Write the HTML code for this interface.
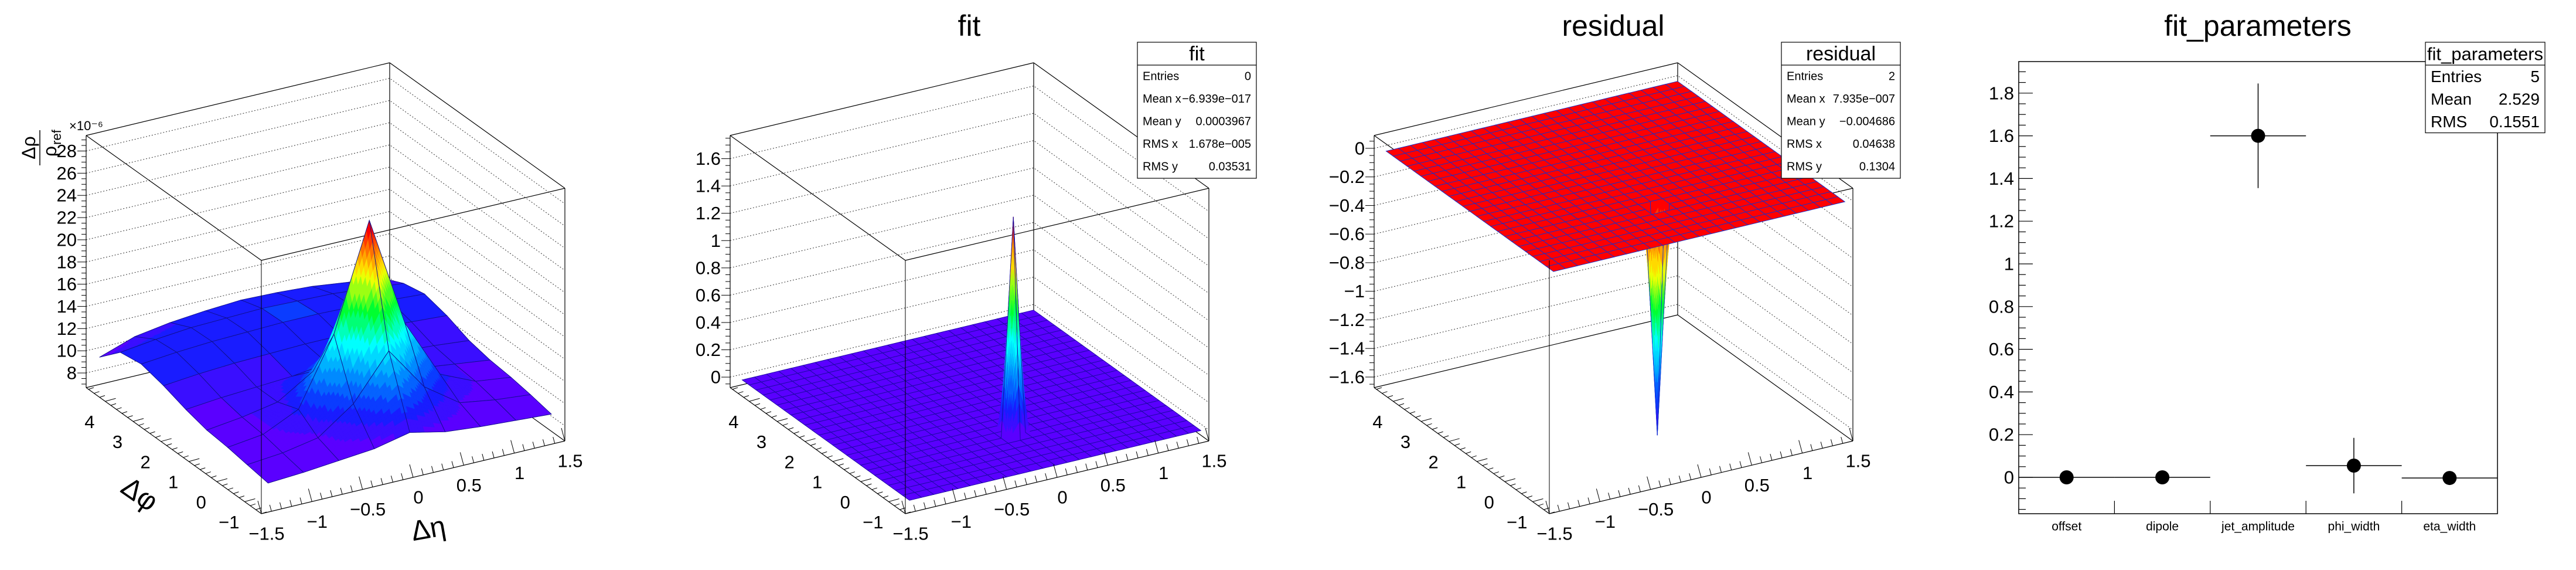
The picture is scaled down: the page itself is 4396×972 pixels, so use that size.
<!DOCTYPE html>
<html><head><meta charset="utf-8"><style>
html,body{margin:0;padding:0;background:#fff;}
svg{display:block;font-family:"Liberation Sans",sans-serif;}
</style></head><body>
<svg id="root" width="4396" height="972" viewBox="0 0 4396 972" xmlns="http://www.w3.org/2000/svg">
<rect x="0" y="0" width="4396" height="972" fill="#fff"/>
</svg>
<script>
// ---------- Panel 1 data: Δρ/ρref (×1e-6) ----------
const p1Eta = [-1.4,-1.05,-0.7,-0.35,0,0.35,0.7,1.05,1.4];
const p1Phi = [-1.45,-0.7,0,0.75,1.5,2.3,3.1,3.85,4.6];
const p1Z = [
 [9.0,9.2,9.5,9.8,10.5,9.8,9.5,9.3,9.1],
 [9.3,9.6,10.2,12.5,16.5,12.5,10.3,9.8,9.5],
 [9.6,10.0,11.5,17.5,27.0,17.0,11.6,10.2,9.8],
 [9.8,10.2,10.8,12.8,16.5,12.8,10.8,10.4,10.0],
 [10.3,10.6,10.8,11.0,11.4,11.0,10.9,10.7,10.4],
 [11.0,11.3,11.5,11.6,11.7,11.7,11.6,11.4,11.2],
 [11.5,11.8,12.0,12.1,12.2,12.2,12.1,11.9,11.7],
 [11.2,11.6,11.9,12.0,12.1,12.0,11.9,11.6,11.3],
 [9.4,10.5,11.0,11.3,11.5,11.4,11.2,10.8,10.4]
];
const p1ZTicks = [8,10,12,14,16,18,20,22,24,26,28];
// ---------- Panel 2 (fit) ----------
const fitBase = 0;
const fitPeakValues = [1.6];
const fitPeakEtaIdx = [12];
const fitPeakPhiIdx = [6];
const fitZTicks = [0,0.2,0.4,0.6,0.8,1,1.2,1.4,1.6];
const fitStats = [["Entries","0"],["Mean x","\u22126.939e\u2212017"],["Mean y","0.0003967"],["RMS x","1.678e\u2212005"],["RMS y","0.03531"]];
// ---------- Panel 3 (residual) ----------
const resBase = 0;
const resPeakValues = [-1.6];
const resPeakEtaIdx = [12];
const resPeakPhiIdx = [6];
const resZTicks = [0,-0.2,-0.4,-0.6,-0.8,-1,-1.2,-1.4,-1.6];
const resStats = [["Entries","2"],["Mean x","7.935e\u2212007"],["Mean y","\u22120.004686"],["RMS x","0.04638"],["RMS y","0.1304"]];
// ---------- Panel 4 (fit_parameters) ----------
const parCategories = ["offset","dipole","jet_amplitude","phi_width","eta_width"];
const parValues = [0.0,0.0,1.6,0.055,-0.003];
const parErrors = [0.002,0.002,0.245,0.13,0.002];
const parYTicks = [0,0.2,0.4,0.6,0.8,1,1.2,1.4,1.6,1.8];
const parStats = [["Entries","5"],["Mean","2.529"],["RMS","0.1551"]];
const etaTicks = [-1.5,-1,-0.5,0,0.5,1,1.5];
const phiTicks = [-1,0,1,2,3,4];

const NS="http://www.w3.org/2000/svg";
const root=document.getElementById('root');
function mk(tag,attrs,parent){const e=document.createElementNS(NS,tag);for(const k in attrs)e.setAttribute(k,attrs[k]);(parent||root).appendChild(e);return e;}
function fmt(v){let s=(Math.round(v*100)/100).toString();return s.replace('-','\u2212');}
const stops=[[0,[90,0,255]],[0.12,[16,32,255]],[0.25,[0,128,255]],[0.42,[0,255,255]],[0.58,[0,255,48]],[0.75,[255,255,0]],[0.87,[255,140,0]],[1,[255,0,0]]];
function col(t){t=Math.max(0,Math.min(1,t));t=Math.min(1,Math.floor(t*20)/19);
 for(let i=1;i<stops.length;i++){if(t<=stops[i][0]){const a=stops[i-1],b=stops[i];const f=(t-a[0])/(b[0]-a[0]);
  return 'rgb('+a[1].map((c,k)=>Math.round(c+(b[1][k]-c)*f)).join(',')+')';}}return 'rgb(255,0,0)';}

function panel3d(ox,name,zmin,zmax,etaN,phiN,Z,zTicks,minorStep,cmin,cmax,meshColor){
 const g=mk('g',{transform:'translate('+ox+',0)'});
 
 
 const H=430;
 const zy=z=>(z-zmin)/(zmax-zmin)*H;
 function P(eta,phi,z){const u=(eta+1.5)/3,v=(phi+1.5708)/6.2832;return [446+u*518-v*299,876-u*124-v*215-zy(z)];}
 zTicks.forEach(t=>{const y=661-zy(t);
  const gl=mk('polyline',{points:`147,${y} 665,${y-124} 964,${y+90}`,fill:'none',stroke:'#333','stroke-width':1,'stroke-dasharray':'2,3'},g);
  
  
 });
 const edges=[[147,231,665,107],[665,107,964,321],[147,231,446,444],[446,444,964,321],[147,231,147,661],[964,321,964,752],[665,107,665,537],[147,661,665,537],[665,537,964,752],[147,661,446,876],[446,876,964,752]];
 edges.forEach(e=>{const l=mk('line',{x1:e[0],y1:e[1],x2:e[2],y2:e[3],stroke:'#000','stroke-width':1.2},g);
  
  });
 const quads=[];
 for(let j=0;j<phiN.length-1;j++)for(let i=0;i<etaN.length-1;i++){
  const u=(etaN[i]+etaN[i+1])/2,v=(phiN[j]+phiN[j+1])/2;
  quads.push({i,j,d:124*(u+1.5)/3+215*(v+1.57)/6.28});}
 quads.sort((a,b)=>b.d-a.d);
 const sg=mk('g',{},g);
 
 
 quads.forEach(q=>{const i=q.i,j=q.j;
  const z00=Z[j][i],z10=Z[j][i+1],z01=Z[j+1][i],z11=Z[j+1][i+1];
  const zr=Math.max(z00,z10,z01,z11)-Math.min(z00,z10,z01,z11);
  const n=zr>(cmax-cmin)*0.08?12:1;
  const bil=(a,b)=>z00*(1-a)*(1-b)+z10*a*(1-b)+z01*(1-a)*b+z11*a*b;
  const pt=(a,b)=>P(etaN[i]+(etaN[i+1]-etaN[i])*a,phiN[j]+(phiN[j+1]-phiN[j])*b,bil(a,b));
  const subs=[];
  for(let b=0;b<n;b++)for(let a=0;a<n;a++)subs.push([a,b]);
  subs.sort((s,t)=>(t[0]*124+t[1]*215)-(s[0]*124+s[1]*215));
  subs.forEach(([a,b])=>{const a0=a/n,a1=(a+1)/n,b0=b/n,b1=(b+1)/n;
   const zm=(bil(a0,b0)+bil(a1,b0)+bil(a0,b1)+bil(a1,b1))/4;
   const pts=[pt(a0,b0),pt(a1,b0),pt(a1,b1),pt(a0,b1)];
   const c=col((zm-cmin)/(cmax-cmin));
   const p=mk('polygon',{points:pts.map(p=>p.join(',')).join(' '),fill:c,stroke:c,'stroke-width':0.6},sg);
   
   });
  const o=[pt(0,0),pt(1,0),pt(1,1),pt(0,1)];
  const ol=mk('polygon',{points:o.map(p=>p.join(',')).join(' '),fill:'none',stroke:meshColor,'stroke-width':0.9},sg);
  
  
 });
 const fe=mk('line',{x1:446,y1:444,x2:446,y2:876,stroke:'#000','stroke-width':1},g);
 
 
 for(let v=Math.ceil(zmin/minorStep)*minorStep;v<=zmax;v+=minorStep){const y=661-zy(v);
  const isMaj=zTicks.some(t=>Math.abs(t-v)<1e-6);
  const tk=mk('line',{x1:147-(isMaj?15:8),y1:y,x2:147,y2:y,stroke:'#000','stroke-width':1},g);
  
  }
 zTicks.forEach(t=>{const y=661-zy(t);
  const tx=mk('text',{x:131,y:y,'text-anchor':'end','dominant-baseline':'central','font-size':31},g);
  tx.textContent=fmt(t);
  
  });
 for(let k=0;k<=30;k++){const e=-1.5+k*0.1;const p=P(e,-1.5708,zmin);const maj=k%5==0;
  const tk=mk('line',{x1:p[0],y1:p[1],x2:p[0]-(maj?6:3),y2:p[1]-(maj?22:11),stroke:'#000','stroke-width':1},g);
  
  }
 etaTicks.forEach(e=>{const p=P(e,-1.5708,zmin);
  const tx=mk('text',{x:p[0]+9,y:p[1]+34,'text-anchor':'middle','dominant-baseline':'central','font-size':31},g);
  tx.textContent=fmt(e);
  
  });
 for(let k=0;k<=31;k++){const ph=-1.5708+k*0.2;if(ph>4.72)break;const pb=P(-1.5,ph,zmin);
  const maj=Math.abs(ph-Math.round(ph))<0.11;
  const tk=mk('line',{x1:pb[0],y1:pb[1],x2:pb[0]+(maj?18:9),y2:pb[1]-(maj?5:3),stroke:'#000','stroke-width':1},g);
  
  }
 phiTicks.forEach(ph=>{const p=P(-1.5,ph,zmin);
  const tx=mk('text',{x:p[0]-28,y:p[1]+34,'text-anchor':'middle','dominant-baseline':'central','font-size':31},g);
  tx.textContent=fmt(ph);
  
  });
 return g;
}
function statsBox(g,x,y,w,title,rows,titleSize,rowSize,rowH){
 const b=mk('g',{},g);
 
 
 mk('rect',{x:x,y:y,width:w,height:39+rows.length*rowH,fill:'#fff',stroke:'#000','stroke-width':1.2},b);
 mk('line',{x1:x,y1:y+39,x2:x+w,y2:y+39,stroke:'#000','stroke-width':1.2},b);
 const t=mk('text',{x:x+w/2,y:y+20,'text-anchor':'middle','dominant-baseline':'central','font-size':titleSize},b);
 t.textContent=title;
 rows.forEach((r,k)=>{const yy=y+39+rowH*(k+0.5);
  const a=mk('text',{x:x+9,y:yy,'dominant-baseline':'central','font-size':rowSize},b);a.textContent=r[0];
  const c=mk('text',{x:x+w-9,y:yy,'text-anchor':'end','dominant-baseline':'central','font-size':rowSize},b);c.textContent=r[1];});
}
function title(g,x,text,size){const t=mk('text',{x:x,y:44,'text-anchor':'middle','dominant-baseline':'central','font-size':size},g);
 t.textContent=text;
 
 }

const g1=panel3d(0,'correlation',6.68,29.4,p1Eta,p1Phi,p1Z,p1ZTicks,0.5,9.5,27,'#10108a');
const e6=mk('text',{x:147,y:222,'font-size':22,'text-anchor':'middle'},g1);
e6.textContent='\u00d710\u207b\u2076';


const zt=mk('g',{transform:'translate(70,252) rotate(-90)'},g1);


mk('text',{x:0,y:-10,'text-anchor':'middle','font-size':32},zt).textContent='\u0394\u03c1';
mk('line',{x1:-30,y1:-2,x2:30,y2:-2,stroke:'#000','stroke-width':1.5},zt);
const rr=mk('text',{x:-6,y:26,'text-anchor':'middle','font-size':32},zt);rr.textContent='\u03c1';
mk('text',{x:18,y:34,'text-anchor':'middle','font-size':22},zt).textContent='ref';
const xt=mk('text',{x:731,y:902,'text-anchor':'middle','dominant-baseline':'central','font-size':48,transform:'rotate(-10 731 902)'},g1);
xt.textContent='\u0394\u03b7';


const yt=mk('text',{x:238,y:843,'text-anchor':'middle','dominant-baseline':'central','font-size':48,transform:'rotate(35 238 843)'},g1);
yt.textContent='\u0394\u03c6';



const gEta=[],gPhi=[];for(let k=0;k<25;k++){gEta.push(-1.44+k*0.12);gPhi.push(-1.5+k*0.25);}
function spikeGrid(base,vals,ei,pi){const Z=[];for(let j=0;j<25;j++){Z.push(new Array(25).fill(base));}
 vals.forEach((v,k)=>{Z[pi[k]][ei[k]]=v;});return Z;}
const fitZ=spikeGrid(fitBase,fitPeakValues,fitPeakEtaIdx,fitPeakPhiIdx);
const g2=panel3d(1099,'fit',-0.077,1.77,gEta,gPhi,fitZ,fitZTicks,0.05,Math.min(fitBase,...fitPeakValues),Math.max(fitBase,...fitPeakValues),'#1a0aa0');
title(g2,555,'fit',50);
statsBox(g2,842,72,203,'fit',fitStats,34,20,38.6);
const resZ=spikeGrid(resBase,resPeakValues,resPeakEtaIdx,resPeakPhiIdx);
const g3=panel3d(2198,'residual',-1.674,0.09,gEta,gPhi,resZ,resZTicks,0.05,Math.min(resBase,...resPeakValues),Math.max(resBase,...resPeakValues),'#1030d0');
title(g3,555,'residual',50);
statsBox(g3,842,72,203,'residual',resStats,34,20,38.6);

const g4=mk('g',{});


const fx0=3445,fx1=4262,fy0=105,fy1=876;
const yv=v=>814-v*364;
const binW=(fx1-fx0)/parCategories.length;
const fr=mk('rect',{x:fx0,y:fy0,width:fx1-fx0,height:fy1-fy0,fill:'none',stroke:'#000','stroke-width':1.5},g4);


for(let v=-0.15;v<=1.93;v+=0.05){const y=yv(v);const maj=parYTicks.some(t=>Math.abs(t-v)<1e-6);
 const tk=mk('line',{x1:fx0,y1:y,x2:fx0+(maj?24:12),y2:y,stroke:'#000','stroke-width':1.2},g4);
 
 }
parYTicks.forEach(t=>{const tx=mk('text',{x:3437,y:yv(t),'text-anchor':'end','dominant-baseline':'central','font-size':31},g4);
 tx.textContent=fmt(t);
 
 });
parCategories.forEach((c,i)=>{const cx=fx0+(i+0.5)*binW;
 if(i>0){const tk=mk('line',{x1:fx0+i*binW,y1:854,x2:fx0+i*binW,y2:fy1,stroke:'#000','stroke-width':1.2},g4);
  
  }
 const tx=mk('text',{x:cx,y:898,'text-anchor':'middle','dominant-baseline':'central','font-size':21},g4);
 tx.textContent=c;
 
 
 const v=parValues[i],e=parErrors[i];
 const h=mk('line',{x1:fx0+i*binW,y1:yv(v),x2:fx0+(i+1)*binW,y2:yv(v),stroke:'#000','stroke-width':1.5},g4);
 
 
 const ve=mk('line',{x1:cx,y1:yv(v+e),x2:cx,y2:yv(v-e),stroke:'#000','stroke-width':1.5},g4);
 
 
 const d=mk('circle',{cx:cx,cy:yv(v),r:12,fill:'#000'},g4);
 
 
});
title(g4,3853,'fit_parameters',50);
statsBox(g4,4139,72,204,'fit_parameters',parStats,31,28,38.5);
</script>
</body></html>
